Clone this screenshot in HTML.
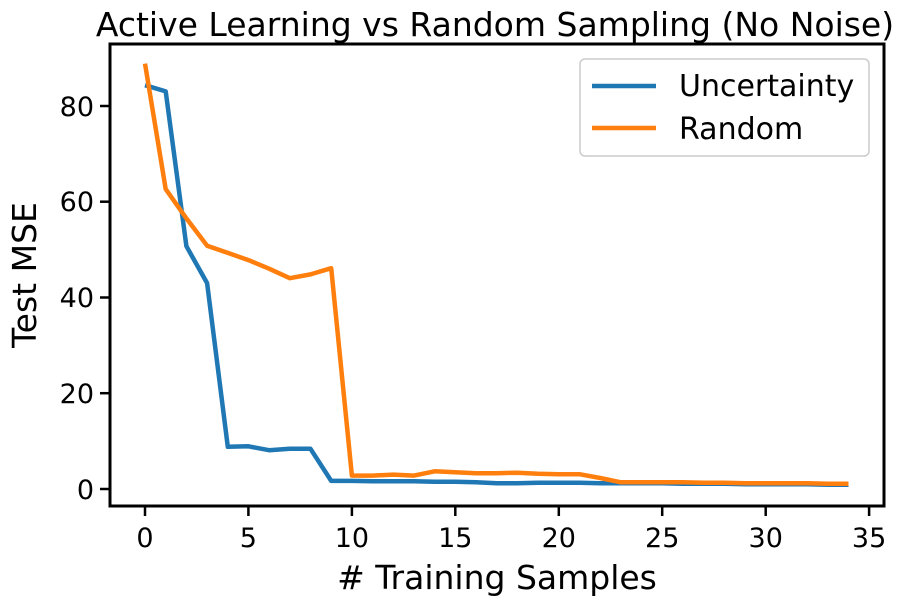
<!DOCTYPE html>
<html><head><meta charset="utf-8"><style>html,body{margin:0;padding:0;background:#fff}</style></head>
<body>
<svg width="910" height="605" xmlns="http://www.w3.org/2000/svg" font-family="'DejaVu Sans', sans-serif">
<rect width="910" height="605" fill="#fff"/>
<g id="plot">
<polyline fill="none" stroke="#1f77b4" stroke-width="4.5" stroke-linejoin="round" points="
145,85.2 165.7,91.4 186.4,246.2 207.1,283.1 227.8,446.8 248.4,446.3 269.1,450.2 289.8,448.8 310.5,448.8 331.2,480.9 351.9,480.9 372.6,481.3 393.3,481.3 414,481.3 434.7,481.8 455.3,481.8 476,482.3 496.7,483.3 517.4,483.3 538.1,482.8 558.8,482.8 579.5,482.8 600.2,483.3 620.9,483.3 641.6,483.3 662.2,483.3 682.9,483.8 703.6,483.8 724.3,483.8 745,484.2 765.7,484.2 786.4,484.2 807.1,484.2 827.8,484.7 848.5,484.7"/>
<polyline fill="none" stroke="#ff7f0e" stroke-width="4.5" stroke-linejoin="round" points="
145,63.6 165.7,189.1 186.4,218.4 207.1,245.7 227.8,252.9 248.4,260.1 269.1,268.7 289.8,278.2 310.5,274.4 331.2,268.2 351.9,475.6 372.6,475.6 393.3,474.6 414,475.6 434.7,471.3 455.3,472.2 476,473.2 496.7,473.2 517.4,472.7 538.1,473.7 558.8,474.2 579.5,474.2 600.2,478 620.9,482.3 641.6,482.3 662.2,482.3 682.9,482.3 703.6,482.8 724.3,482.8 745,483.3 765.7,483.3 786.4,483.3 807.1,483.3 827.8,483.8 848.5,483.7"/>
</g>
<rect x="110" y="44" width="774" height="462" fill="none" stroke="#000" stroke-width="3"/>
<g stroke="#000" stroke-width="2.5">
<line x1="145" y1="506" x2="145" y2="516"/><line x1="248.4" y1="506" x2="248.4" y2="516"/><line x1="351.9" y1="506" x2="351.9" y2="516"/><line x1="455.3" y1="506" x2="455.3" y2="516"/><line x1="558.8" y1="506" x2="558.8" y2="516"/><line x1="662.2" y1="506" x2="662.2" y2="516"/><line x1="765.7" y1="506" x2="765.7" y2="516"/><line x1="869.1" y1="506" x2="869.1" y2="516"/>
<line x1="100" y1="489" x2="110" y2="489"/><line x1="100" y1="393.2" x2="110" y2="393.2"/><line x1="100" y1="297.5" x2="110" y2="297.5"/><line x1="100" y1="201.7" x2="110" y2="201.7"/><line x1="100" y1="106" x2="110" y2="106"/>
</g>
<g font-size="27" fill="#000" text-anchor="middle">
<text x="145" y="547">0</text><text x="248.4" y="547">5</text><text x="351.9" y="547">10</text><text x="455.3" y="547">15</text><text x="558.8" y="547">20</text><text x="662.2" y="547">25</text><text x="765.7" y="547">30</text><text x="869.1" y="547">35</text>
</g>
<g font-size="27" fill="#000" text-anchor="end">
<text x="94" y="499">0</text><text x="94" y="403">20</text><text x="94" y="307">40</text><text x="94" y="211">60</text><text x="94" y="116">80</text>
</g>
<text x="497" y="589" font-size="33" text-anchor="middle"># Training Samples</text>
<text transform="translate(36,275) rotate(-90)" font-size="33" text-anchor="middle">Test MSE</text>
<text x="495" y="36" font-size="33" text-anchor="middle">Active Learning vs Random Sampling (No Noise)</text>
<rect x="580" y="59" width="289" height="97" rx="5" fill="#fff" fill-opacity="0.8" stroke="#ccc" stroke-width="1.5"/>
<line x1="592" y1="86" x2="656" y2="86" stroke="#1f77b4" stroke-width="4.5"/>
<line x1="592" y1="128" x2="656" y2="128" stroke="#ff7f0e" stroke-width="4.5"/>
<text x="679" y="96" font-size="30">Uncertainty</text>
<text x="679" y="139" font-size="30">Random</text>
</svg>
</body></html>
